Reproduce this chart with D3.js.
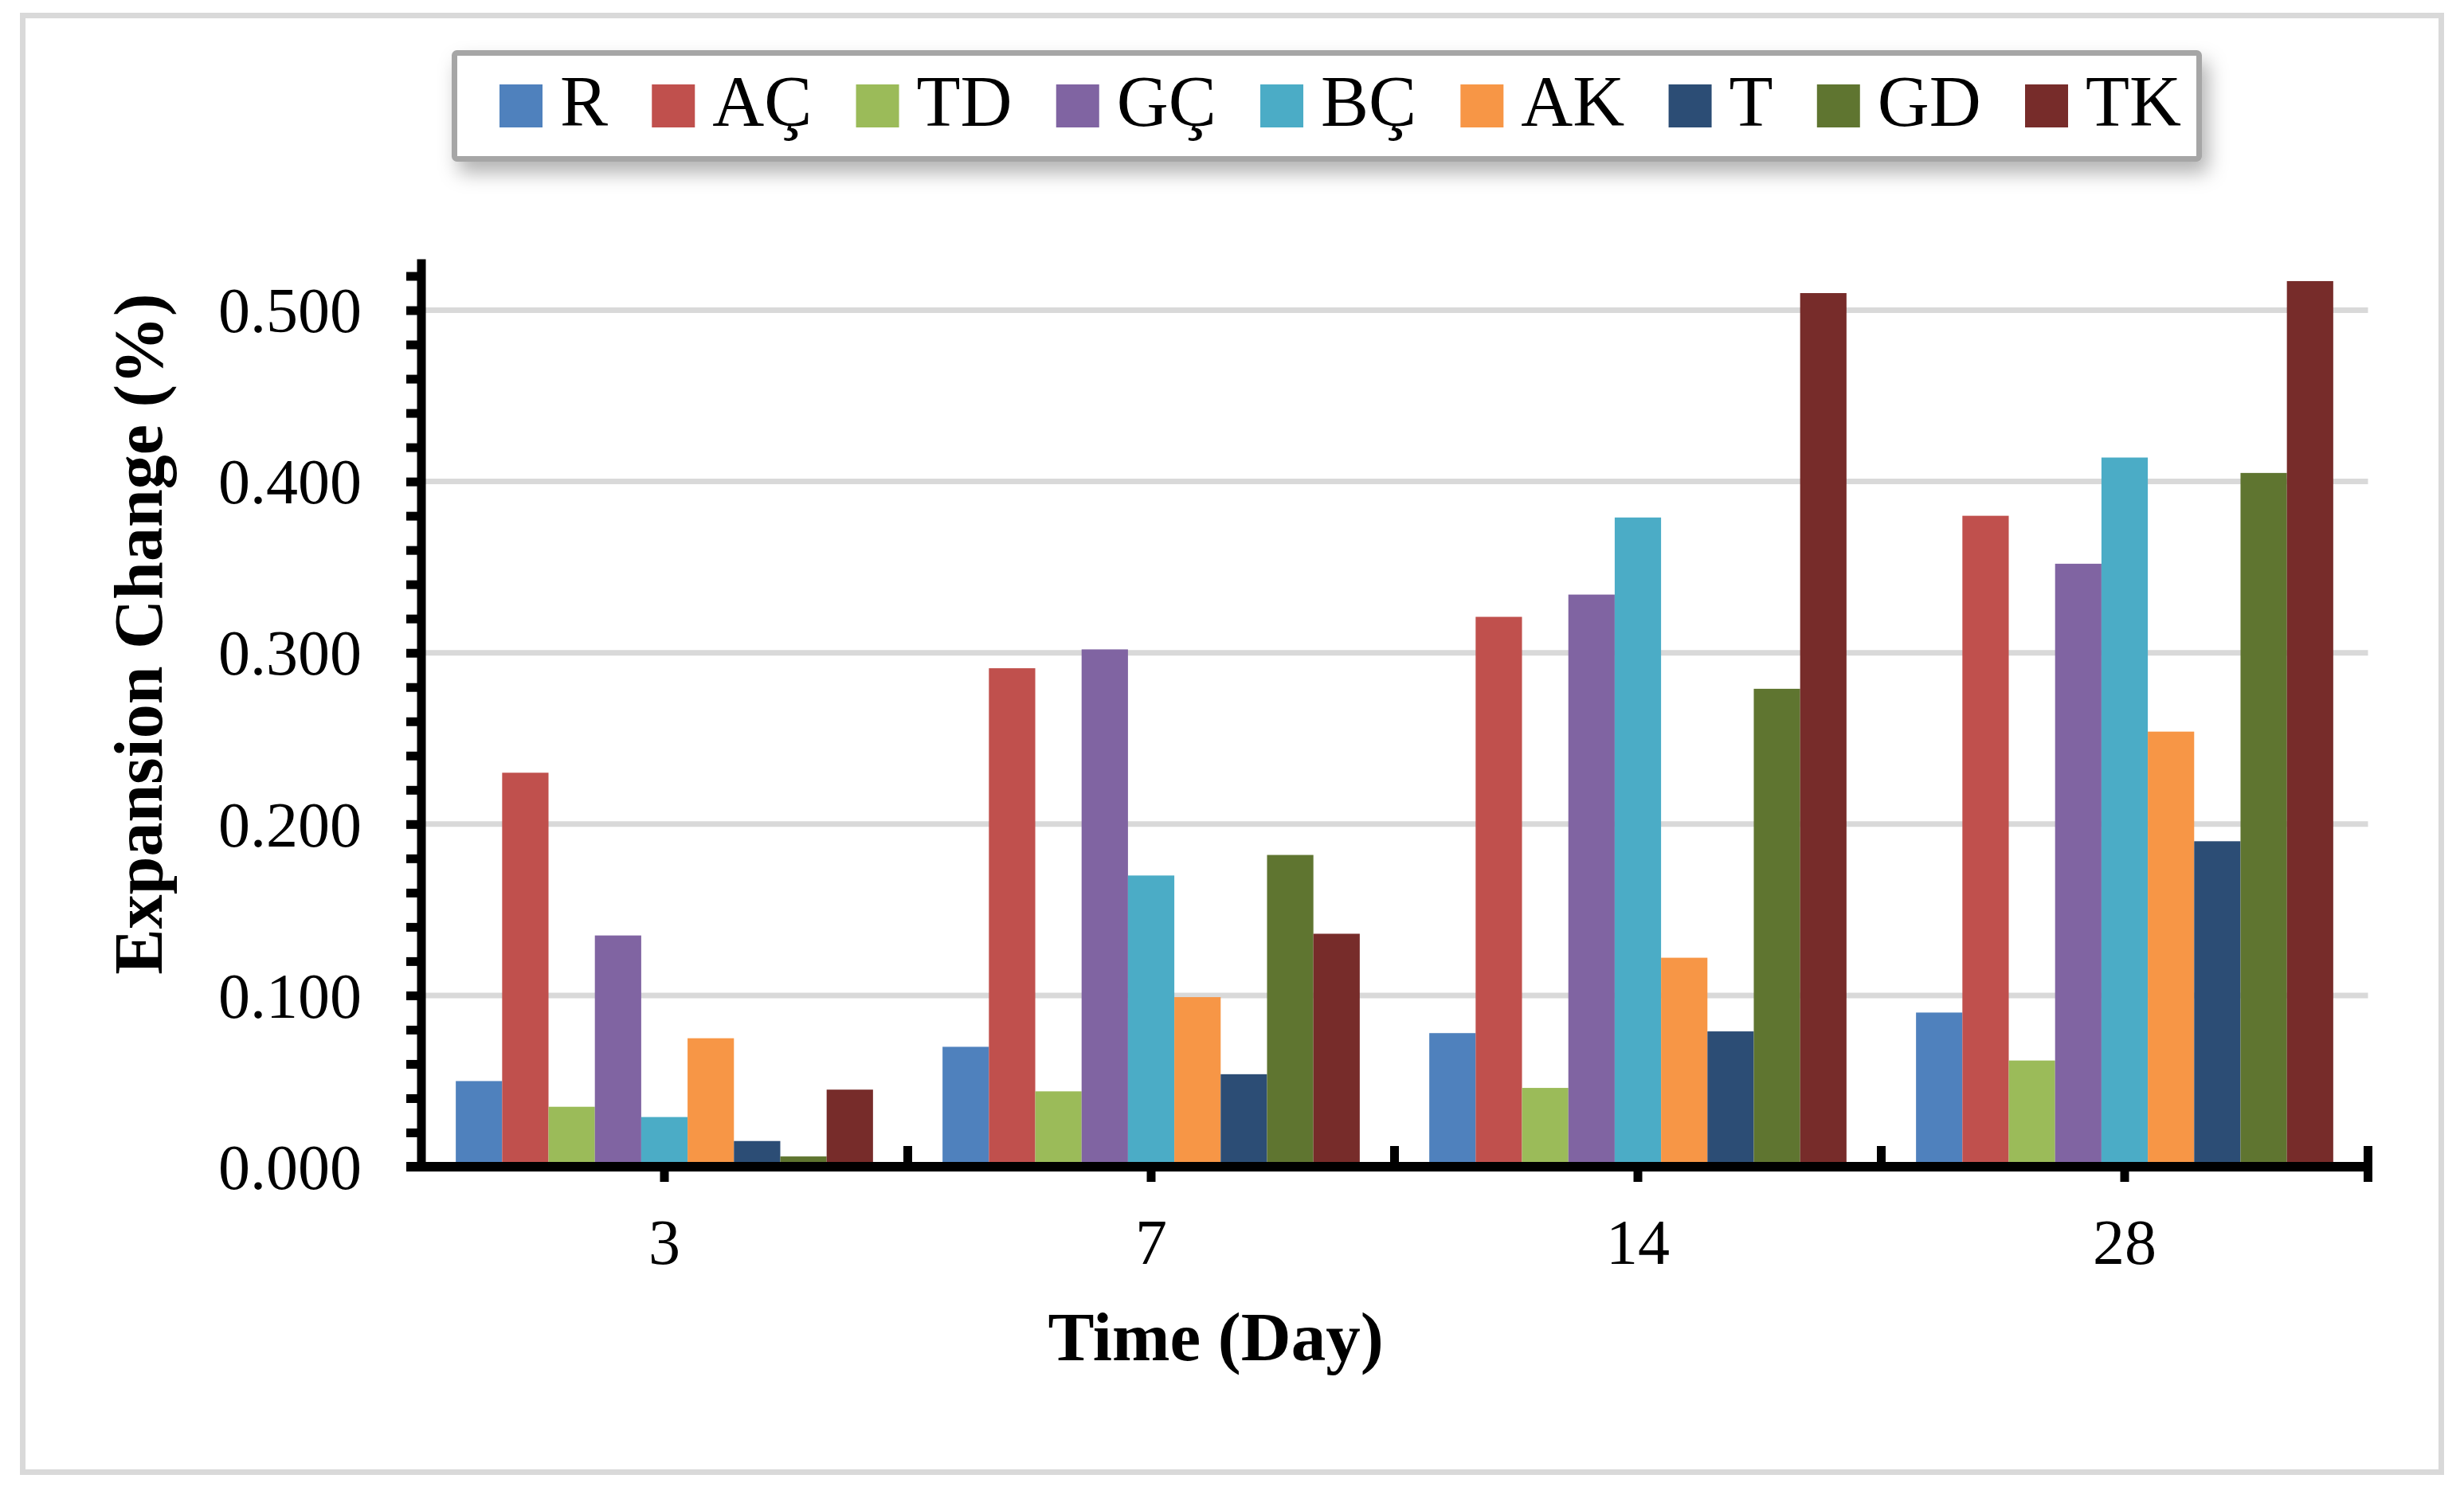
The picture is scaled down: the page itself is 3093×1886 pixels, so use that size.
<!DOCTYPE html>
<html>
<head>
<meta charset="utf-8">
<script src="https://cdn.jsdelivr.net/npm/d3@7"></script>
<style>
  body { margin: 0; background: #fff; }
  text { font-family: 'Liberation Serif', serif; fill: #000; }
</style>
</head>
<body>
<script>
// categories and series
var days = ['3', '7', '14', '28'];
var seriesNames = ['R', 'AÇ', 'TD', 'GÇ', 'BÇ', 'AK', 'T', 'GD', 'TK'];
var seriesColors = ['#4F81BD', '#C0504D', '#9BBB59', '#8064A2', '#4BACC6',
                    '#F79646', '#2C4D75', '#5F7530', '#772C2A'];

// expansion change (%) per series, one value per day
var valR  = [0.050, 0.070, 0.078, 0.090];
var valAC = [0.230, 0.291, 0.321, 0.380];
var valTD = [0.035, 0.044, 0.046, 0.062];
var valGC = [0.135, 0.302, 0.334, 0.352];
var valBC = [0.029, 0.170, 0.379, 0.414];
var valAK = [0.075, 0.099, 0.122, 0.254];
var valT  = [0.015, 0.054, 0.079, 0.190];
var valGD = [0.006, 0.182, 0.279, 0.405];
var valTK = [0.045, 0.136, 0.510, 0.517];
var values = [valR, valAC, valTD, valGC, valBC, valAK, valT, valGD, valTK];

var yTicks = [0, 0.1, 0.2, 0.3, 0.4, 0.5];
var yMax = 0.53;
var yMinorStep = 0.02;

var W = 3093, H = 1886;
var svg = d3.select('body').append('svg').attr('width', W).attr('height', H);

// outer chart border
svg.append('rect')
    .attr('x', 28.5).attr('y', 19.5)
    .attr('width', 3036).attr('height', 1829)
    .attr('fill', '#fff').attr('stroke', '#d9d9d9').attr('stroke-width', 7);

var y = d3.scaleLinear().domain([0, yMax]).range([1465, 325]);
var x0 = d3.scaleBand().domain(days).range([528.5, 2972.5]);
var x1 = d3.scaleBand().domain(seriesNames)
    .range([0, x0.bandwidth()]).paddingInner(0).paddingOuter(0.75);

// gridlines
svg.append('g').selectAll('line')
    .data(yTicks.filter(function(t) { return t > 0; }))
    .join('line')
    .attr('x1', x0.range()[0] + 5.5).attr('x2', x0.range()[1])
    .attr('y1', function(d) { return y(d); }).attr('y2', function(d) { return y(d); })
    .attr('stroke', '#d9d9d9').attr('stroke-width', 7);

// bars
var groups = svg.append('g').selectAll('g')
    .data(days)
    .join('g')
    .attr('transform', function(d) { return 'translate(' + x0(d) + ',0)'; });

groups.selectAll('rect')
    .data(function(d, i) {
        return seriesNames.map(function(name, s) {
            return { name: name, value: values[s][i], color: seriesColors[s] };
        });
    })
    .join('rect')
    .attr('x', function(d) { return x1(d.name); })
    .attr('width', x1.bandwidth())
    .attr('y', function(d) { return y(d.value); })
    .attr('height', function(d) { return y(0) - y(d.value); })
    .attr('fill', function(d) { return d.color; });

// y axis with minor ticks every 0.02
var yAxis = d3.axisLeft(y)
    .tickValues(d3.range(0, yMax, yMinorStep))
    .tickSizeInner(18.5).tickSizeOuter(0)
    .tickFormat('');
var gy = svg.append('g').attr('transform', 'translate(' + x0.range()[0] + ',0)').call(yAxis);
gy.select('.domain').attr('stroke', '#000').attr('stroke-width', 11);
gy.selectAll('.tick line').attr('stroke', '#000').attr('stroke-width', 11);

// y labels
var yLabels = d3.axisLeft(y).tickValues(yTicks).tickSize(0).tickPadding(74.5)
    .tickFormat(d3.format('.3f'));
var gyl = svg.append('g').attr('transform', 'translate(' + x0.range()[0] + ',0)').call(yLabels);
gyl.select('.domain').remove();
gyl.selectAll('text').attr('font-size', 80).attr('font-family', 'Liberation Serif')
    .attr('dy', '0.34em');

// x axis line
svg.append('line')
    .attr('x1', x0.range()[0] - 18.5).attr('x2', x0.range()[1] + 5.5)
    .attr('y1', y(0)).attr('y2', y(0))
    .attr('stroke', '#000').attr('stroke-width', 12);

// ticks at group boundaries, pointing up
svg.append('g').selectAll('line')
    .data(days)
    .join('line')
    .attr('x1', function(d) { return x0(d) + x0.bandwidth(); })
    .attr('x2', function(d) { return x0(d) + x0.bandwidth(); })
    .attr('y1', y(0) - 26)
    .attr('y2', function(d, i) { return i === days.length - 1 ? y(0) + 19 : y(0); })
    .attr('stroke', '#000').attr('stroke-width', 11);

// center ticks pointing down + labels
var xAxis = d3.axisBottom(x0).tickSizeInner(19).tickSizeOuter(0).tickPadding(0);
var gx = svg.append('g').attr('transform', 'translate(0,' + y(0) + ')').call(xAxis);
gx.select('.domain').remove();
gx.selectAll('.tick line').attr('stroke', '#000').attr('stroke-width', 11);
gx.selectAll('text').attr('font-size', 80).attr('font-family', 'Liberation Serif')
    .attr('y', 122).attr('dy', 0);

// axis titles
svg.append('text')
    .attr('x', 1526).attr('y', 1708)
    .attr('text-anchor', 'middle')
    .attr('font-size', 87).attr('font-weight', 'bold')
    .text('Time (Day)');

svg.append('text')
    .attr('transform', 'translate(203,796) rotate(-90)')
    .attr('text-anchor', 'middle')
    .attr('font-size', 86).attr('font-weight', 'bold')
    .text('Expansion Change (%)');

// legend
var defs = svg.append('defs');
var shadow = defs.append('filter').attr('id', 'shadow')
    .attr('x', '-5%').attr('y', '-30%').attr('width', '110%').attr('height', '170%');
shadow.append('feDropShadow')
    .attr('dx', 8).attr('dy', 14).attr('stdDeviation', 12)
    .attr('flood-color', '#000').attr('flood-opacity', 0.3);

svg.append('rect')
    .attr('x', 570.5).attr('y', 66.5)
    .attr('width', 2190).attr('height', 133)
    .attr('rx', 3)
    .attr('fill', '#fff').attr('stroke', '#a6a6a6').attr('stroke-width', 7)
    .attr('filter', 'url(#shadow)');

var legendLeft = 627, legendRight = 2738, swatch = 54, textOffset = 76;
var items = svg.append('g').selectAll('g')
    .data(seriesNames)
    .join('g');
items.append('rect')
    .attr('y', 106).attr('width', swatch).attr('height', swatch)
    .attr('fill', function(d, i) { return seriesColors[i]; });
items.append('text')
    .attr('x', textOffset).attr('y', 158)
    .attr('font-size', 90)
    .text(function(d) { return d; });

var widths = [];
items.select('text').each(function() { widths.push(this.getComputedTextLength()); });
var gap = (legendRight - legendLeft - seriesNames.length * textOffset - d3.sum(widths)) /
    (seriesNames.length - 1);
var pos = legendLeft;
items.attr('transform', function(d, i) {
    var p = pos;
    pos += textOffset + widths[i] + gap;
    return 'translate(' + p + ',0)';
});
</script>
</body>
</html>
